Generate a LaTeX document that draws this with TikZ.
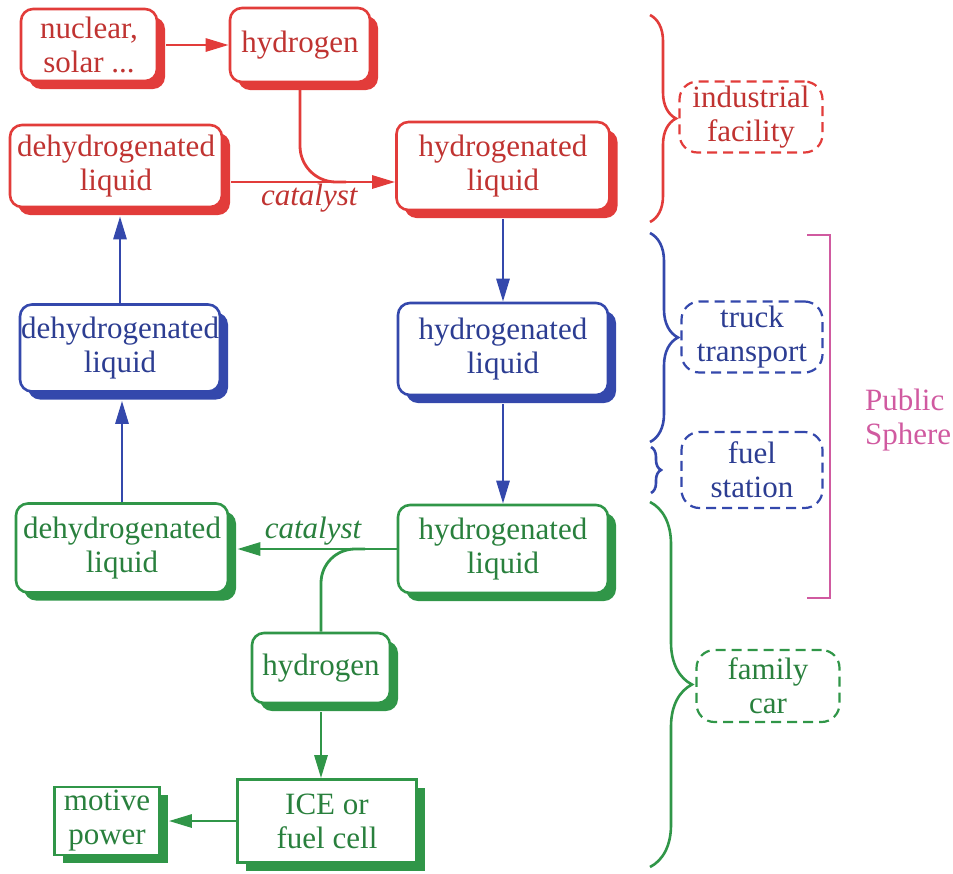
\documentclass[tikz,border=0pt]{standalone}
\usepackage{fontspec}
\setmainfont{Liberation Serif}
\usetikzlibrary{arrows.meta,calc,positioning,shadows,decorations.pathreplacing}
\definecolor{fred}{RGB}{226,60,58}
\definecolor{fblue}{RGB}{52,72,172}
\definecolor{fgreen}{RGB}{48,150,72}
\definecolor{fpink}{RGB}{208,90,160}
\newcommand{\labfont}{\rmfamily\fontsize{15.5}{17}\selectfont}

\begin{document}
\begin{tikzpicture}[x=0.5pt,y=-0.5pt,>={Triangle[length=11.5pt,width=6.5pt]},
  box/.style={draw=#1,text=#1!85!black,fill=white,line width=1.3pt,
    rounded corners=6pt,align=center,inner sep=0pt,font=\labfont,
    drop shadow={opacity=1,fill=#1,shadow xshift=4pt,shadow yshift=-4pt}},
  sqbox/.style={box=#1,rounded corners=0pt},
  zone/.style={draw=#1,text=#1!85!black,dash pattern=on 5pt off 3pt,
    line width=1.1pt,rounded corners=9pt,align=center,inner sep=0pt,font=\labfont},
  link/.style={draw=#1,line width=1.4pt},
  curly/.style 2 args={draw=#1,line width=1.3pt,decorate,
    decoration={brace,amplitude=#2}}]
  \useasboundingbox (0,0) rectangle (953,873);

  % industrial facility
  \node[box=fred,minimum width=68pt,minimum height=36pt] (nuc) at (89,45) {nuclear,\\solar ...};
  \node[box=fred,minimum width=70pt,minimum height=37pt] (hydR) at (300,45) {hydrogen};
  \node[box=fred,minimum width=106pt,minimum height=41pt] (dehydR) at (116,166) {dehydrogenated\\liquid};
  \node[box=fred,minimum width=106.5pt,minimum height=44pt] (hydroR) at (503,166) {hydrogenated\\liquid};

  % transport
  \node[box=fblue,minimum width=100pt,minimum height=43.5pt] (dehydB) at (120,348) {dehydrogenated\\liquid};
  \node[box=fblue,minimum width=105pt,minimum height=46pt] (hydroB) at (503,349) {hydrogenated\\liquid};

  % car
  \node[box=fgreen,minimum width=106pt,minimum height=44.5pt] (dehydG) at (122,548) {dehydrogenated\\liquid};
  \node[box=fgreen,minimum width=105pt,minimum height=44pt] (hydroG) at (503,549) {hydrogenated\\liquid};
  \node[box=fgreen,minimum width=69pt,minimum height=35pt] (hydG) at (321,668) {hydrogen};
  \node[sqbox=fgreen,minimum width=89.5pt,minimum height=41.5pt] (ice) at (327,821) {ICE or\\fuel cell};
  \node[sqbox=fgreen,minimum width=52.5pt,minimum height=34pt] (motive) at (107,821) {motive\\power};

  % connectors
  \draw[link=fred,->,shorten <=4pt] (nuc) -- (hydR);
  \coordinate (rcat) at ([yshift=-8pt]dehydR.east);
  \draw[link=fred,->,shorten <=4pt] (rcat) -- (rcat -| hydroR.west)
    node[midway,below=-3pt,text=fred!85!black,font=\labfont\itshape] (catR) {catalyst};
  \coordinate (rjoin) at ($(hydR.south |- rcat)+(46,0)$);
  \draw[link=fred,rounded corners=18pt] (hydR.south) |- (rjoin);
  \draw[link=fblue,->,shorten >=4pt] (dehydB.north) -- (dehydB.north |- dehydR.south);
  \draw[link=fblue,->,shorten <=4pt] (hydroR.south) -- (hydroR.south |- hydroB.north);
  \draw[link=fblue,->,shorten <=4pt] (hydroB.south) -- (hydroB.south |- hydroG.north);
  \draw[link=fblue,->,shorten >=4pt] (dehydG.north) -- (dehydG.north |- dehydB.south);
  \draw[link=fgreen,->,shorten >=4pt] (hydroG.west) -- (hydroG.west -| dehydG.east)
    node[midway,above=-2pt,text=fgreen!85!black,font=\labfont\itshape] (catG) {catalyst};
  \coordinate (gjoin) at ($(hydG.north |- hydroG.west)+(44,0)$);
  \draw[link=fgreen,rounded corners=17pt] (hydG.north) |- (gjoin);
  \draw[link=fgreen,->,shorten <=4pt] (hydG.south) -- (hydG.south |- ice.north);
  \draw[link=fgreen,->,shorten >=4pt] (ice.west) -- (ice.west -| motive.east);

  % spheres
  \node[zone=fred,minimum width=71.5pt,minimum height=35.5pt] (ind) at (751,117) {industrial\\facility};
  \node[zone=fblue,minimum width=70.5pt,minimum height=35.5pt] (truck) at (752,337) {truck\\transport};
  \node[zone=fblue,minimum width=70.5pt,minimum height=38pt] (fuel) at (752,470) {fuel\\station};
  \node[zone=fgreen,minimum width=71.5pt,minimum height=36pt] (car) at (768,686) {family\\car};
  \draw[curly={fred}{13pt}] (650,15) -- (650,222);
  \draw[curly={fblue}{14pt}] (650,233) -- (650,442);
  \draw[curly={fblue}{5pt}] (651,447) -- (651,493);
  \draw[curly={fgreen}{21pt}] (650,502) -- (650,867);
  \draw[link=fpink] (807,235) -- (830,235) -- (830,598) -- (807,598);
  \node[text=fpink,align=left,anchor=west,font=\labfont] (pub) at (858,420) {Public\\Sphere};
\end{tikzpicture}
\end{document}
